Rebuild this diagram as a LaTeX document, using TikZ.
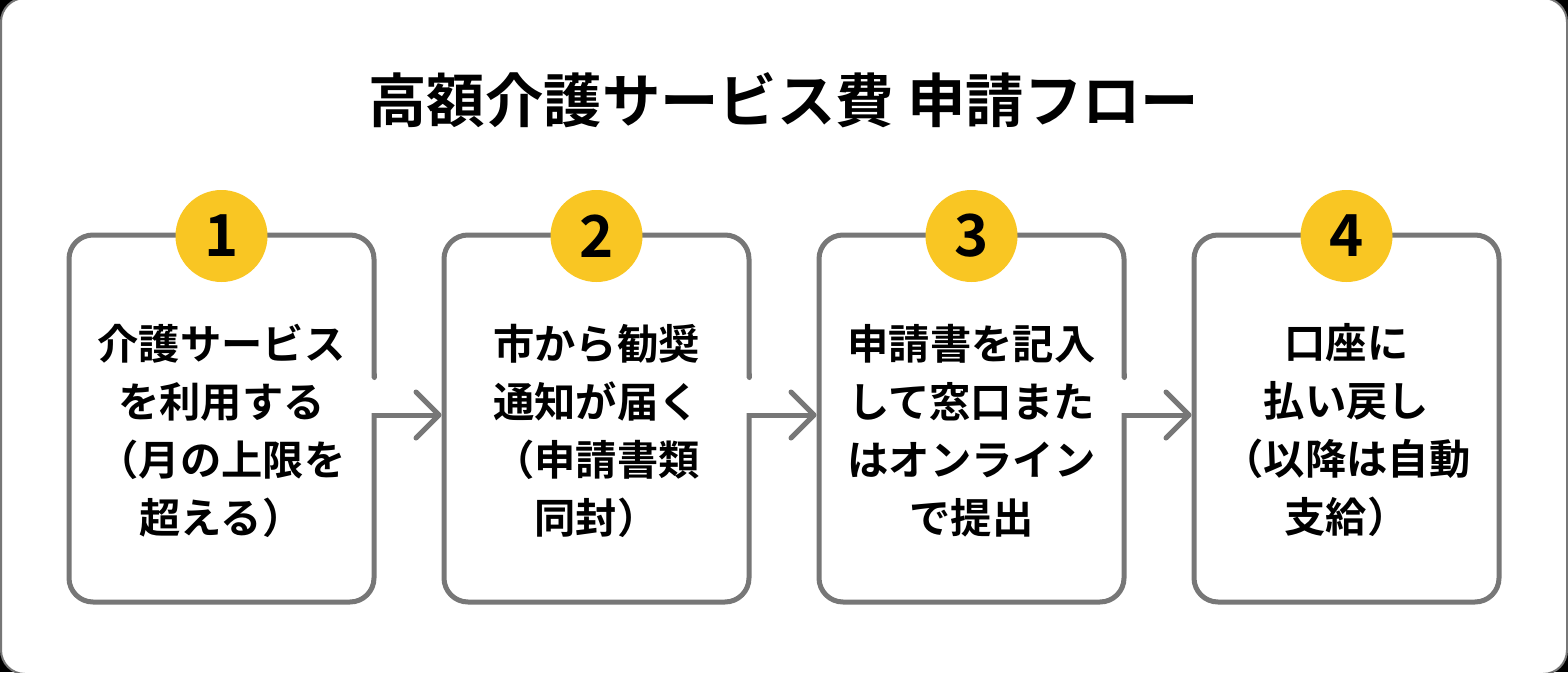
\documentclass[tikz,border=0pt]{standalone}
\usepackage{fontspec}
\setmainfont{Noto Sans CJK JP}[BoldFont={Noto Sans CJK JP Bold}]
\usetikzlibrary{positioning,arrows.meta}
\definecolor{linegray}{HTML}{777777}
\definecolor{badgeyellow}{HTML}{F9C623}

\begin{document}
\begin{tikzpicture}[page/.style={rectangle,draw=linegray,line width=2pt,fill=white,rounded corners=24pt,inner sep=0pt,outer sep=0pt,minimum width=1566pt,minimum height=676pt},
						box/.style={rectangle,draw=linegray,line width=5pt,fill=white,rounded corners=24pt,inner sep=0pt,outer sep=0pt,minimum width=305pt,minimum height=367pt},
						boxtext/.style={inner sep=0pt,align=center,yshift=-12pt,font=\fontsize{41.3}{58}\selectfont\bfseries},
						badge/.style={circle,fill=badgeyellow,inner sep=0pt,minimum size=92pt,yshift=-1pt,font=\fontsize{58}{58}\selectfont\bfseries},
						title/.style={inner sep=0pt,font=\fontsize{58.4}{70}\selectfont\bfseries},
						flow/.style={draw=linegray,line width=5pt,-{Straight Barb[length=23pt,width=46pt,round]},shorten >=2.5pt},
						node distance=70pt]
		\useasboundingbox (0pt,0pt) rectangle (1568pt,-672pt);
		\fill[black] (0pt,0pt) rectangle (1568pt,-672pt);
		\begin{scope}
			\clip (0pt,0pt) rectangle (1568pt,-672pt);
			\node[page]					(frame)		at (784pt,-336pt)		{};
		\end{scope}
		\node[title]						(head)		at (784pt,-100pt)		{高額介護サービス費 申請フロー};
		\node[box]						(b1)		at (221.5pt,-418.5pt)	{};
		\node[box,right=of b1]			(b2)		{};
		\node[box,right=of b2]			(b3)		{};
		\node[box,right=of b3]			(b4)		{};

		\node[boxtext]	(t1)	at (b1.center)	{介護サービス\\を利用する\\（月の上限を\\超える）};
		\node[boxtext]	(t2)	at (b2.center)	{市から勧奨\\通知が届く\\（申請書類\\同封）};
		\node[boxtext]	(t3)	at (b3.center)	{申請書を記入\\して窓口また\\はオンライン\\で提出};
		\node[boxtext]	(t4)	at (b4.center)	{口座に\\払い戻し\\（以降は自動\\支給）};

		\node[badge]	(n1)	at (b1.north)	{1};
		\node[badge]	(n2)	at (b2.north)	{2};
		\node[badge]	(n3)	at (b3.north)	{3};
		\node[badge]	(n4)	at (b4.north)	{4};

		\foreach \a/\b in {b1/b2,b2/b3,b3/b4}{
			\draw[white,line width=7pt] ([yshift=40.5pt]\a.east) -- ([yshift=6pt]\a.east);
			\draw[linegray,line width=5pt,line cap=round] ([yshift=44pt]\a.east) -- ([yshift=41pt]\a.east);
			\draw[flow] ([yshift=3.5pt]\a.east) -- ([yshift=3.5pt]\b.west);
		}
	\end{tikzpicture}
\end{document}
